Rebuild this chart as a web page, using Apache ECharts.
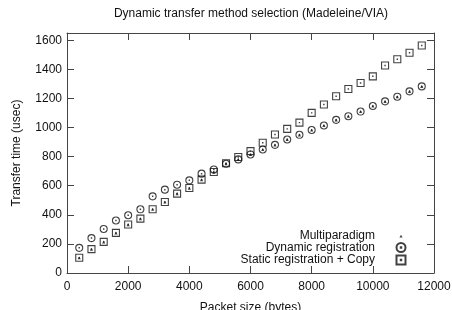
<!DOCTYPE html>
<html>
<head>
<meta charset="utf-8">
<script src="https://cdn.jsdelivr.net/npm/echarts@6/dist/echarts.min.js"></script>
<style>
  html, body { margin: 0; padding: 0; background: #fff; }
  #chart { width: 452px; height: 310px; }
</style>
</head>
<body>
<div id="chart"></div>
<script>
// packet sizes (bytes)
let sizes = [400, 800, 1200, 1600, 2000, 2400, 2800, 3200, 3600, 4000,
  4400, 4800, 5200, 5600, 6000, 6400, 6800, 7200, 7600, 8000,
  8400, 8800, 9200, 9600, 10000, 10400, 10800, 11200, 11600]
// transfer time (usec)
let dynamicReg = [173, 240, 303, 361, 397, 438, 527, 573, 607, 637,
  683, 712, 751, 781, 815, 849, 881, 918, 950, 983,
  1014, 1053, 1078, 1110, 1148, 1180, 1212, 1249, 1283]
let staticCopy = [105, 164, 214, 276, 333, 374, 438, 488, 546, 584,
  642, 694, 755, 797, 838, 895, 952, 991, 1034, 1101,
  1158, 1215, 1265, 1306, 1352, 1427, 1470, 1514, 1564]
let multiParadigm = [105, 164, 214, 276, 333, 374, 438, 488, 546, 584,
  642, 694, 751, 781, 815, 849, 881, 918, 950, 983,
  1014, 1053, 1078, 1110, 1148, 1180, 1212, 1249, 1283]

function pairs (ys) {
  return sizes.map(function (x, i) { return [x, ys[i]] })
}

let chart = echarts.init(document.getElementById('chart'))
let font = 'Liberation Sans, Arial, sans-serif'
let axisColor = '#444'
let textColor = '#111'
// outer shapes with a small dot in the middle, like gnuplot points
let circleDot = 'path://M10,0A10,10,0,1,1,10,20A10,10,0,1,1,10,0ZM9.5,9.5L10.5,9.5L10.5,10.5L9.5,10.5Z'
let squareDot = 'path://M0,0L20,0L20,20L0,20ZM9.5,9.5L10.5,9.5L10.5,10.5L9.5,10.5Z'
// the two moveTo points only widen the box so the triangle stays small
let smallTri = 'path://M0,0M20,20M6.5,13.5L10,7L13.5,13.5Z'

function plainNum (v) { return String(v) }

// gnuplot style: border box with inward ticks on all four sides
function makeAxis (extra) {
  return Object.assign({
    type: 'value',
    axisLine: { show: true, onZero: false, lineStyle: { color: axisColor, width: 1 } },
    axisTick: { show: true, inside: true, length: 7, lineStyle: { color: axisColor } },
    splitLine: { show: false }
  }, extra)
}

let labelStyle = { fontFamily: font, fontSize: 12, color: textColor }

let option = {
  animation: false,
  backgroundColor: '#fff',
  textStyle: { fontFamily: font },
  title: {
    text: 'Dynamic transfer method selection (Madeleine/VIA)',
    left: 251,
    textAlign: 'center',
    top: 8,
    padding: 0,
    textStyle: { fontFamily: font, fontSize: 12, fontWeight: 'normal', color: textColor }
  },
  grid: { left: 67, right: 18, top: 33, bottom: 37, outerBoundsMode: 'none' },
  legend: {
    orient: 'vertical',
    align: 'right',
    right: 44,
    bottom: 43,
    padding: 0,
    itemGap: -1.5,
    itemWidth: 42,
    itemHeight: 9,
    symbolKeepAspect: true,
    textStyle: { fontFamily: font, fontSize: 12, color: textColor, lineHeight: 11.3 },
    data: ['Multiparadigm', 'Dynamic registration', 'Static registration + Copy']
  },
  xAxis: [
    makeAxis({
      min: 0, max: 12000, interval: 2000,
      name: 'Packet size (bytes)', nameLocation: 'middle', nameGap: 29,
      nameTextStyle: labelStyle,
      axisLabel: Object.assign({ margin: 8, formatter: plainNum }, labelStyle)
    }),
    makeAxis({
      min: 0, max: 12000, interval: 2000, position: 'top',
      axisLabel: { show: false }
    })
  ],
  yAxis: [
    makeAxis({
      min: 0, max: 1650, interval: 200,
      name: 'Transfer time (usec)', nameLocation: 'middle', nameGap: 44,
      nameTextStyle: labelStyle,
      axisLabel: Object.assign({ margin: 5, showMaxLabel: false, formatter: plainNum }, labelStyle)
    }),
    makeAxis({
      min: 0, max: 1650, interval: 200, position: 'right',
      axisLabel: { show: false }
    })
  ],
  series: [
    {
      name: 'Dynamic registration',
      type: 'scatter',
      symbol: circleDot,
      symbolSize: 7,
      symbolKeepAspect: true,
      itemStyle: { color: 'none', borderColor: textColor, borderWidth: 1.1 },
      data: pairs(dynamicReg),
      z: 2
    },
    {
      name: 'Static registration + Copy',
      type: 'scatter',
      symbol: squareDot,
      symbolSize: 7,
      symbolKeepAspect: true,
      itemStyle: { color: 'none', borderColor: textColor, borderWidth: 1.1 },
      data: pairs(staticCopy),
      z: 2
    },
    {
      name: 'Multiparadigm',
      type: 'scatter',
      symbol: smallTri,
      symbolSize: 9,
      symbolKeepAspect: true,
      itemStyle: { color: textColor },
      data: pairs(multiParadigm),
      z: 3
    }
  ]
}
chart.setOption(option)
</script>
</body>
</html>
